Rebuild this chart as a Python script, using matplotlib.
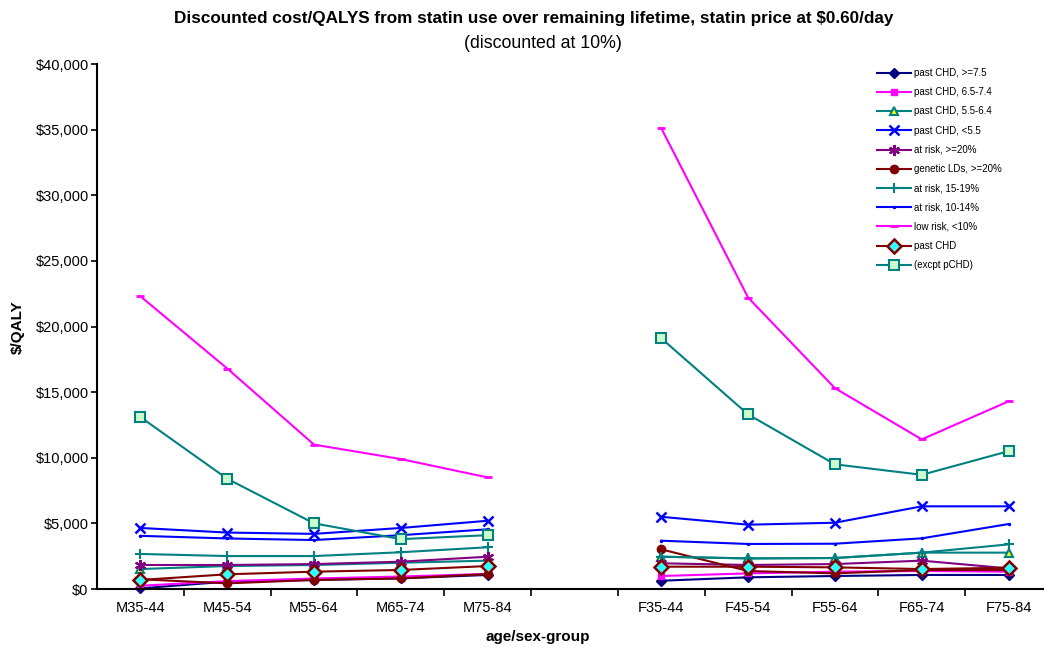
import matplotlib
matplotlib.use("Agg")
import matplotlib.pyplot as plt
import numpy as np
from matplotlib.ticker import FuncFormatter, FixedLocator

plt.rcParams['font.family'] = ['Liberation Sans', 'DejaVu Sans']

categories = ["M35-44", "M45-54", "M55-64", "M65-74", "M75-84", "",
              "F35-44", "F45-54", "F55-64", "F65-74", "F75-84"]

series_names = ["past CHD, >=7.5", "past CHD, 6.5-7.4", "past CHD, 5.5-6.4",
                "past CHD, <5.5", "at risk, >=20%", "genetic LDs, >=20%",
                "at risk, 15-19%", "at risk, 10-14%", "low risk, <10%",
                "past CHD", "(excpt pCHD)"]

nan = np.nan
pchd_ge75 = [50, 560, 690, 810, 1070, nan, 630, 890, 990, 1070, 1070]
pchd_65_74 = [250, 600, 800, 950, 1150, nan, 990, 1190, 1320, 1370, 1320]
pchd_55_64 = [1520, 1750, 1830, 2000, 2160, nan, 2460, 2330, 2360, 2770, 2770]
pchd_lt55 = [4650, 4300, 4200, 4650, 5200, nan, 5500, 4900, 5050, 6300, 6300]
risk_ge20 = [1830, 1830, 1900, 2080, 2460, nan, 1960, 1830, 1900, 2160, 1570]
genetic_ge20 = [740, 430, 690, 810, 1140, nan, 3020, 1370, 1190, 1450, 1450]
risk_15_19 = [2670, 2510, 2510, 2800, 3180, nan, 2460, 2330, 2360, 2770, 3400]
risk_10_14 = [4050, 3850, 3730, 4100, 4550, nan, 3680, 3430, 3450, 3860, 4950]
lowrisk_lt10 = [22300, 16800, 11000, 9900, 8500, nan, 35100, 22200, 15300, 11400, 14300]
pchd_all = [690, 1120, 1320, 1450, 1750, nan, 1700, 1700, 1650, 1520, 1620]
excpt_pchd = [13100, 8400, 5000, 3800, 4100, nan, 19100, 13300, 9500, 8700, 10500]

data = [pchd_ge75, pchd_65_74, pchd_55_64, pchd_lt55, risk_ge20, genetic_ge20,
        risk_15_19, risk_10_14, lowrisk_lt10, pchd_all, excpt_pchd]

styles = [
    dict(color="#000080", marker="D", ms=5, mfc="#000080", mec="#000080"),
    dict(color="#FF00FF", marker="s", ms=4, mfc="#FF00FF", mec="#FF00FF"),
    dict(color="#008080", marker="^", ms=6, mfc="#FFFF00", mec="#008080", mew=1.5),
    dict(color="#0000FF", marker="x", ms=7, mfc="#0000FF", mec="#0000FF", mew=1.8),
    dict(color="#800080", marker=(6, 2, 0), ms=8, mfc="#800080", mec="#800080", mew=1.5),
    dict(color="#800000", marker="o", ms=6, mfc="#800000", mec="#800000"),
    dict(color="#008080", marker="+", ms=7, mfc="#008080", mec="#008080", mew=1.5),
    dict(color="#0000FF", marker=".", ms=3, mfc="#0000FF", mec="#0000FF"),
    dict(color="#FF00FF", marker="_", ms=6, mfc="#FF00FF", mec="#FF00FF", mew=2),
    dict(color="#800000", marker="D", ms=7, mfc="#33FFFF", mec="#800000", mew=1.8),
    dict(color="#008080", marker="s", ms=7, mfc="#CCFFCC", mec="#008080", mew=1.5),
]

fig = plt.figure(figsize=(10.44, 6.48), dpi=100)
W, H = 1044, 648
left, right, top, bottom = 97, 1052, 64, 589
ax = fig.add_axes([left / W, 1 - bottom / H, (right - left) / W, (bottom - top) / H])

x = np.arange(len(categories))
for name, vals, st in zip(series_names, data, styles):
    v = np.array(vals, dtype=float)
    for seg in (slice(0, 5), slice(6, 11)):
        ax.plot(x[seg], v[seg], lw=1.5, label=name if seg.start == 0 else None,
                clip_on=False, **st)

ax.set_xlim(-0.5, len(categories) - 0.5)
ax.set_ylim(0, 40000)
ax.set_yticks(np.arange(0, 40001, 5000))
ax.yaxis.set_major_formatter(FuncFormatter(lambda v, p: "${:,.0f}".format(v)))
ax.set_xticks(x)
ax.set_xticklabels(categories)
ax.xaxis.set_minor_locator(FixedLocator(np.arange(0.5, len(categories) - 0.5, 1)))
ax.tick_params(axis="x", which="major", length=0, labelsize=10.5, pad=9)
ax.tick_params(axis="x", which="minor", length=5, width=1.2, direction="out")
ax.tick_params(axis="y", length=4, width=1.2, direction="out", labelsize=10.5, pad=2)

for s in ["top", "right"]:
    ax.spines[s].set_visible(False)
for s in ["left", "bottom"]:
    ax.spines[s].set_linewidth(1.5)

fig.text(18 / W, 1 - 327 / H, "$/QALY", ha="center", va="center", rotation=90,
         fontsize=11, fontweight="bold")
fig.text(538 / W, 1 - 637 / H, "age/sex-group", ha="center", va="center",
         fontsize=11, fontweight="bold")

fig.text(534 / W, 1 - 18 / H,
         "Discounted cost/QALYS from statin use over remaining lifetime, statin price at $0.60/day",
         ha="center", va="center", fontsize=12.3, fontweight="bold")
fig.text(543 / W, 1 - 44 / H, "(discounted at 10%)", ha="center", va="center", fontsize=12.8)

leg = ax.legend(loc="upper left", bbox_to_anchor=(877 / W, 1 - 68 / H),
                bbox_transform=fig.transFigure, frameon=False, fontsize=7.0,
                handlelength=3.5, labelspacing=0.95, handletextpad=0.3,
                borderaxespad=0, borderpad=0)

fig.savefig("out.png", dpi=100)
